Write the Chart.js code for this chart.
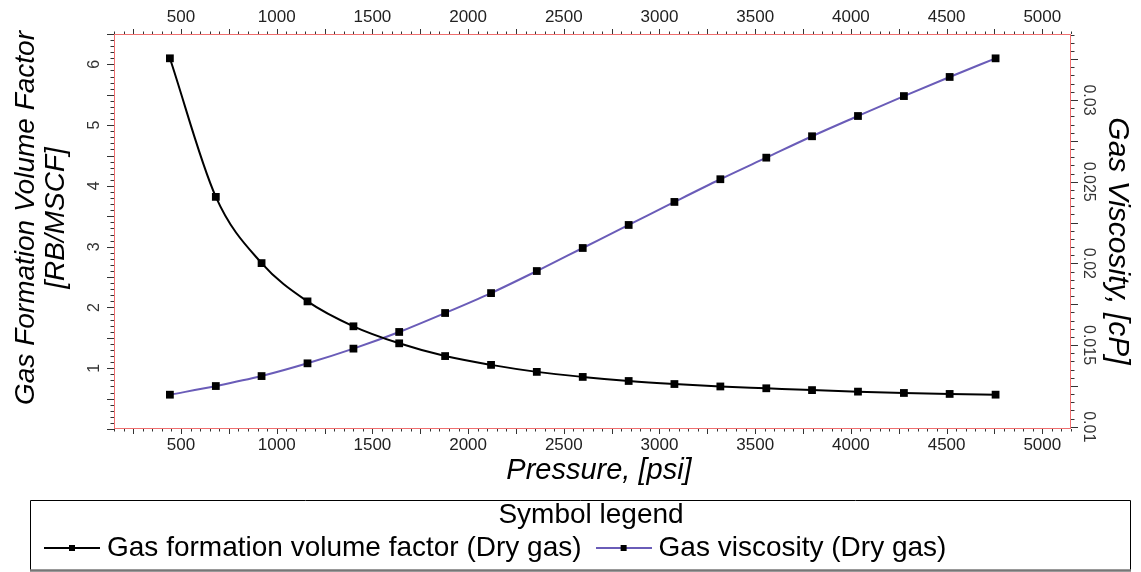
<!DOCTYPE html>
<html>
<head>
<meta charset="utf-8">
<script src="https://cdn.jsdelivr.net/npm/chart.js@4.4.1/dist/chart.umd.min.js"></script>
<style>
html,body{margin:0;padding:0;background:#fff;}
#wrap{width:1141px;height:572px;position:relative;}
</style>
</head>
<body>
<div id="wrap"><canvas id="c" width="1141" height="572"></canvas></div>
<script>
// ---- data ----
const pressure = [442, 682, 921, 1161, 1401, 1640, 1880, 2120, 2359, 2599, 2839, 3078, 3318, 3558, 3797, 4037, 4277, 4516, 4756];
const gasFVF = [6.10, 3.82, 2.73, 2.10, 1.69, 1.41, 1.20, 1.055, 0.94, 0.857, 0.79, 0.74, 0.70, 0.67, 0.64, 0.615, 0.593, 0.577, 0.565];
const gasViscosity = [0.01196, 0.01249, 0.0131, 0.01388, 0.01478, 0.0158, 0.01696, 0.01818, 0.01953, 0.02094, 0.02235, 0.02376, 0.02515, 0.02647, 0.02778, 0.02902, 0.03024, 0.03141, 0.03255];
const xTickLabels = [500, 1000, 1500, 2000, 2500, 3000, 3500, 4000, 4500, 5000];
const leftTickLabels = [1, 2, 3, 4, 5, 6];
const rightTickLabels = ['0.01', '0.015', '0.02', '0.025', '0.03'];
const seriesNames = ['Gas formation volume factor (Dry gas)', 'Gas viscosity (Dry gas)'];
const xTitle = 'Pressure, [psi]';
const leftTitle = ['Gas Formation Volume Factor', '[RB/MSCF]'];
const rightTitle = 'Gas Viscosity, [cP]';
const legendTitle = 'Symbol legend';

const FONT = "'Liberation Sans', Arial, sans-serif";
const BLACK = '#000000';
const PURPLE = '#6a5cb8';

function sampleImage(color) {
  const c = document.createElement('canvas');
  c.width = 56; c.height = 8;
  const g = c.getContext('2d');
  g.strokeStyle = color; g.lineWidth = 1.8;
  g.beginPath(); g.moveTo(0, 4); g.lineTo(56, 4); g.stroke();
  g.fillStyle = '#000'; g.fillRect(25, 1, 6, 6);
  return c;
}
const samples = [sampleImage(BLACK), sampleImage(PURPLE)];

const framePlugin = {
  id: 'frame',
  afterDraw(chart) {
    const {ctx, chartArea: a, scales} = chart;
    const sx = scales.x, yl = scales.y, yr = scales.y2;
    ctx.save();
    // tick marks
    ctx.strokeStyle = '#333'; ctx.lineWidth = 1;
    ctx.beginPath();
    for (let v = 150; v <= 5150; v += 50) {
      const p = Math.round(sx.getPixelForValue(v)) + 0.5;
      const len = (v % 250 === 0) ? 5 : 2.5;
      ctx.moveTo(p, a.top); ctx.lineTo(p, a.top - len);
      ctx.moveTo(p, a.bottom); ctx.lineTo(p, a.bottom + len);
    }
    for (let k = 0; k <= 65; k++) {
      const p = Math.round(yl.getPixelForValue(k / 10)) + 0.5;
      const len = (k % 5 === 0) ? 7 : 3.5;
      ctx.moveTo(a.left, p); ctx.lineTo(a.left - len, p);
    }
    for (let k = 20; k <= 68; k++) {
      const v = k * 0.0005;
      if (v > yr.max) continue;
      const p = Math.round(yr.getPixelForValue(v)) + 0.5;
      const len = (k % 5 === 0) ? 7 : 3.5;
      ctx.moveTo(a.right, p); ctx.lineTo(a.right + len, p);
    }
    ctx.stroke();
    // plot frame
    ctx.strokeStyle = '#ef6f6f'; ctx.lineWidth = 1;
    ctx.strokeRect(a.left + 0.5, a.top + 0.5, a.right - a.left - 1, a.bottom - a.top - 1);
    // y tick labels (rotated)
    ctx.fillStyle = '#333';
    ctx.font = '16px ' + FONT;
    ctx.textAlign = 'center'; ctx.textBaseline = 'middle';
    leftTickLabels.forEach(v => {
      ctx.save(); ctx.translate(a.left - 19, yl.getPixelForValue(v)); ctx.rotate(-Math.PI / 2);
      ctx.fillText(String(v), 0, 0); ctx.restore();
    });
    rightTickLabels.forEach(t => {
      ctx.save(); ctx.translate(a.right + 17, yr.getPixelForValue(parseFloat(t))); ctx.rotate(Math.PI / 2);
      ctx.fillText(t, 0, 0); ctx.restore();
    });
    // axis titles
    ctx.fillStyle = '#000';
    ctx.font = 'italic 28px ' + FONT;
    ctx.save(); ctx.translate(a.left - 88, a.top + 184); ctx.rotate(-Math.PI / 2);
    ctx.fillText(leftTitle[0], 0, 0); ctx.restore();
    ctx.save(); ctx.translate(a.left - 58, a.top + 184); ctx.rotate(-Math.PI / 2);
    ctx.fillText(leftTitle[1], 0, 0); ctx.restore();
    ctx.font = 'italic 30px ' + FONT;
    ctx.save(); ctx.translate(a.right + 46, a.top + 207); ctx.rotate(Math.PI / 2);
    ctx.fillText(rightTitle, 0, 0); ctx.restore();
    ctx.font = 'italic 29px ' + FONT;
    ctx.fillText(xTitle, a.left + 485, a.bottom + 42);
    // legend frame and heading
    const lg = chart.legend;
    ctx.strokeStyle = '#000'; ctx.lineWidth = 1;
    ctx.beginPath();
    ctx.moveTo(lg.left + 0.5, 570); ctx.lineTo(lg.left + 0.5, 500.5); ctx.lineTo(lg.right - 0.5, 500.5); ctx.lineTo(lg.right - 0.5, 570);
    ctx.stroke();
    ctx.strokeStyle = '#777'; ctx.lineWidth = 2.5;
    ctx.beginPath(); ctx.moveTo(lg.left, 570.5); ctx.lineTo(lg.right, 570.5); ctx.stroke();
    ctx.fillStyle = '#000';
    ctx.font = '28px ' + FONT;
    ctx.fillText(legendTitle, 591, 515);
    ctx.restore();
  }
};

const xScaleBase = (pos, h) => ({
  type: 'linear', position: pos, min: 150, max: 5150,
  grid: {display: false, drawTicks: false}, border: {display: false},
  ticks: {font: {family: FONT, size: 17}, color: '#222', padding: 6, maxRotation: 0, minRotation: 0, autoSkip: false,
          callback: v => String(v)},
  afterBuildTicks: s => { s.ticks = xTickLabels.map(v => ({value: v})); },
  afterFit: s => { s.height = h; }
});

new Chart(document.getElementById('c'), {
  type: 'line',
  data: {
    datasets: [
      {label: seriesNames[0], data: pressure.map((p, i) => ({x: p, y: gasFVF[i]})), xAxisID: 'x', yAxisID: 'y',
       borderColor: BLACK, backgroundColor: BLACK, borderWidth: 2, pointStyle: 'rect', pointRadius: 5.5,
       pointBackgroundColor: '#000', pointBorderColor: '#000', pointBorderWidth: 0, cubicInterpolationMode: 'monotone'},
      {label: seriesNames[1], data: pressure.map((p, i) => ({x: p, y: gasViscosity[i]})), xAxisID: 'x', yAxisID: 'y2',
       borderColor: PURPLE, backgroundColor: PURPLE, borderWidth: 2, pointStyle: 'rect', pointRadius: 5.5,
       pointBackgroundColor: '#000', pointBorderColor: '#000', pointBorderWidth: 0, cubicInterpolationMode: 'monotone'}
    ]
  },
  options: {
    responsive: false, animation: false, devicePixelRatio: 1,
    layout: {padding: {left: 30, right: 10, top: 0, bottom: 0}},
    plugins: {
      tooltip: {enabled: false},
      title: {display: false},
      legend: {
        position: 'bottom', align: 'start',
        labels: {
          font: {family: FONT, size: 28}, color: '#000', padding: 21,
          usePointStyle: true, pointStyleWidth: 42,
          generateLabels: chart => chart.data.datasets.map((ds, i) => ({
            text: ds.label, pointStyle: samples[i], fillStyle: '#000', strokeStyle: ds.borderColor,
            lineWidth: 0, hidden: false, datasetIndex: i, fontColor: '#000'
          }))
        }
      }
    },
    scales: {
      x: xScaleBase('bottom', 84),
      x2: xScaleBase('top', 34),
      y: {position: 'left', min: 0, max: 6.5, grid: {display: false, drawTicks: false}, border: {display: false},
          ticks: {display: false}, afterFit: s => { s.width = 84; }},
      y2: {position: 'right', min: 0.00986, max: 0.03404, grid: {display: false, drawTicks: false}, border: {display: false},
           ticks: {display: false}, afterFit: s => { s.width = 60; }}
    }
  },
  plugins: [framePlugin]
});
</script>
</body>
</html>
